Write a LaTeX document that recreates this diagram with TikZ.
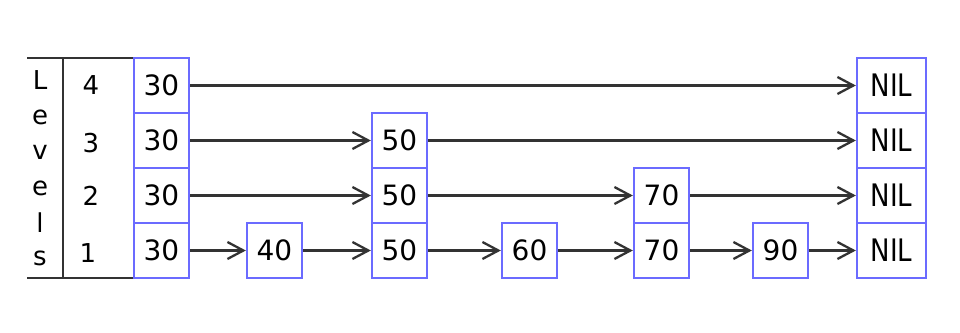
\documentclass[tikz,border=0pt]{standalone}
\usepackage{fontspec}
\usepackage{graphicx}
\setmainfont{DejaVu Sans}
\usetikzlibrary{arrows.meta}
\definecolor{boxblue}{HTML}{6B6BFF}
\definecolor{linegray}{HTML}{333333}
\newcommand{\nilword}{\scalebox{0.84}[1]{NIL}}
\begin{document}
\begin{tikzpicture}[x=1pt,y=-1pt,
  cell/.style={draw=boxblue,line width=2.3pt,fill=white,minimum width=55pt,minimum height=55pt,inner sep=0pt,font=\fontsize{28}{28}\selectfont},
  nilcell/.style={cell,minimum width=69pt,font=\fontsize{31}{31}\selectfont},
  link/.style={draw=linegray,line width=2.3pt,-{Straight Barb[length=16pt,width=17pt,line width=2.3pt]}},
  rule/.style={draw=linegray,line width=2.5pt},
  lbl/.style={inner sep=0pt,font=\fontsize{26}{26}\selectfont}]
\useasboundingbox[fill=white] (0,0) rectangle (960,332);
% levels table
\coordinate (tl) at (27,58);
\coordinate (tr) at (134,58);
\coordinate (bl) at (27,278);
\coordinate (br) at (134,278);
\coordinate (vt) at (63,58);
\coordinate (vb) at (63,278);
\draw[rule] (tl) -- (tr);
\draw[rule] (bl) -- (br);
\draw[rule] (vt) -- (vb);
\node[lbl] (lL) at (40,80) {L};
\node[lbl] (le1) at (40,117) {e};
\node[lbl] (lv) at (40,152) {v};
\node[lbl] (le2) at (40,188) {e};
\node[lbl] (ll) at (40,223) {l};
\node[lbl] (ls) at (40,258) {s};
\node[lbl] (k4) at (91,85) {4};
\node[lbl] (k3) at (91,143) {3};
\node[lbl] (k2) at (91,196) {2};
\node[lbl] (k1) at (88,253) {1};
% cells
\node[cell] (a4) at (161.5,85.5) {30};
\node[cell] (a3) at (161.5,140.5) {30};
\node[cell] (a2) at (161.5,195.5) {30};
\node[cell] (a1) at (161.5,250.5) {30};
\node[cell] (b1) at (274.5,250.5) {40};
\node[cell] (c3) at (399.5,140.5) {50};
\node[cell] (c2) at (399.5,195.5) {50};
\node[cell] (c1) at (399.5,250.5) {50};
\node[cell] (d1) at (529.5,250.5) {60};
\node[cell] (e2) at (661.5,195.5) {70};
\node[cell] (e1) at (661.5,250.5) {70};
\node[cell] (f1) at (780.5,250.5) {90};
\node[nilcell] (n4) at (891.5,85.5) {\nilword};
\node[nilcell] (n3) at (891.5,140.5) {\nilword};
\node[nilcell] (n2) at (891.5,195.5) {\nilword};
\node[nilcell] (n1) at (891.5,250.5) {\nilword};
% links
\draw[link] (a4) -- (n4);
\draw[link] (a3) -- (c3);
\draw[link] (c3) -- (n3);
\draw[link] (a2) -- (c2);
\draw[link] (c2) -- (e2);
\draw[link] (e2) -- (n2);
\draw[link] (a1) -- (b1);
\draw[link] (b1) -- (c1);
\draw[link] (c1) -- (d1);
\draw[link] (d1) -- (e1);
\draw[link] (e1) -- (f1);
\draw[link] (f1) -- (n1);
\end{tikzpicture}
\end{document}
